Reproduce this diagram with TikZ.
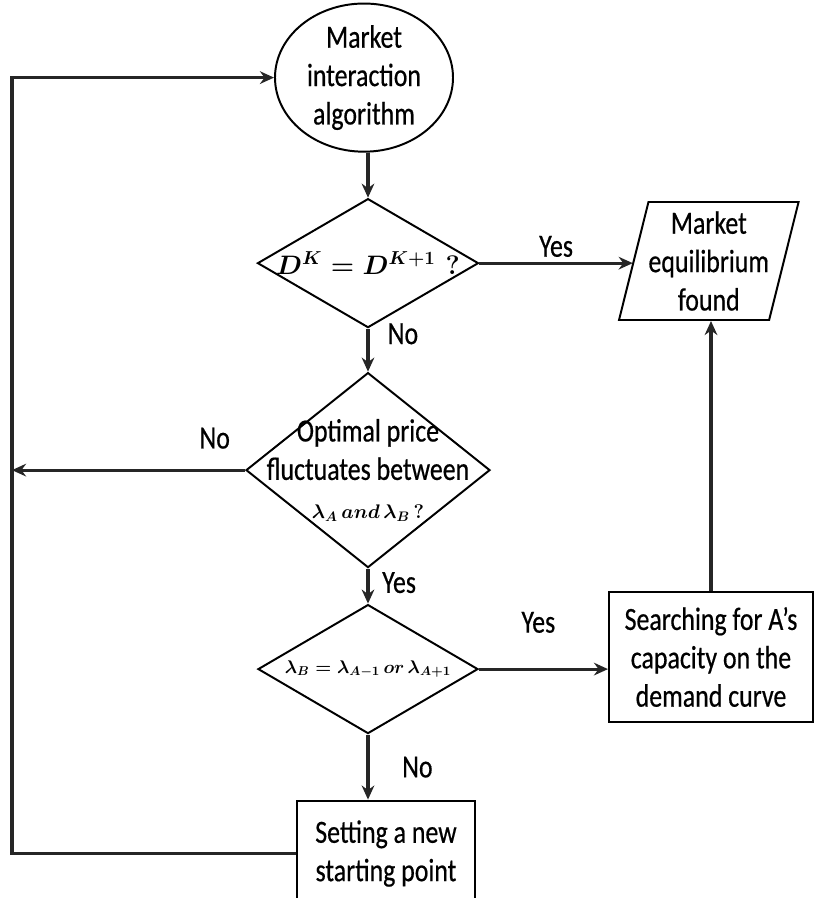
\documentclass[tikz,border=0pt]{standalone}
\usepackage{fix-cm}
\usepackage{fontspec}
\setmainfont{Carlito}[FakeStretch=0.8, FakeBold=0.5]
\usetikzlibrary{shapes.geometric, positioning, arrows.meta}

\begin{document}
\begin{tikzpicture}[font=\fontsize{23}{27.3}\selectfont,node distance=1cm,->,>={Stealth[length=10pt,width=9pt]},line width=2.2pt,draw=black!85]

	\tikzset{node ell/.style={ellipse, draw=black, line width=1.4pt,
			minimum width=4.45cm, minimum height=3.525cm,
			inner sep=0pt, align=center}}
	\tikzset{node dia/.style={diamond, draw=black, line width=1.4pt,
			inner sep=0pt}}
	\tikzset{node box/.style={rectangle, draw=black, line width=1.4pt,
			align=center}}
	\tikzset{node par/.style={trapezium, trapezium left angle=73.5,
			trapezium right angle=106.5, trapezium stretches=true,
			draw=black, line width=1.4pt, inner sep=0pt,
			minimum width=4.475cm, minimum height=2.95cm, align=center}}
	\tikzset{node lab/.style={align=center}}

	\useasboundingbox (0,0) rectangle (20.35,-22.45);

	\node[node ell] (ell) at (9.1,-1.94) {Market\\interaction\\algorithm};
	\node[node dia, minimum width=5.525cm, minimum height=3.225cm, below=1.125cm of ell, xshift=0.1cm] (d1) {};
	\node[node dia, minimum width=6.1cm, minimum height=4.875cm, below=1.075cm of d1] (d2) {};
	\node[node dia, minimum width=5.5cm, minimum height=3.225cm, below=0.875cm of d2] (d3) {};
	\node[node box, minimum width=4.45cm, minimum height=2.65cm, below=1.625cm of d3, xshift=0.45cm] (sp) {Setting a new\\starting point};

	\node[node par] (par) at (17.72,-6.525) {Market\\equilibrium\\found};
	\node[node box, minimum width=5.1cm, minimum height=3.25cm] (srch) at (17.775,-16.425) {Searching for A's\\capacity on the\\demand curve};

	\node[node lab, font=\fontsize{19}{22}\selectfont\boldmath] (d1t) at (d1.center) {$D^K = D^{K+1}\ \,?$};
	\node[node lab] (d2t) at (d2.center) {Optimal price\\fluctuates between\\{\fontsize{14}{17}\selectfont\boldmath$\lambda_A\ and\ \lambda_B\ ?$}};
	\node[node lab, font=\fontsize{13}{18}\selectfont\boldmath] (d3t) at (d3.center) {$\lambda_B = \lambda_{A-1}\ or\ \lambda_{A+1}$};

	\coordinate (lft) at (0.3,0);

	\draw (ell.south -| d1.north) -- (d1.north);
	\draw (d1.south) -- node[pos=0.12, right=0.34cm]{No} (d2.north);
	\draw (d2.south) -- node[pos=0.4, right=0.2cm]{Yes} (d3.north);
	\draw (d3.south) -- node[pos=0.5, right=0.7cm]{No} (d3.south |- sp.north);
	\draw (d1.east) -- node[above]{Yes} (d1.east -| par.west);
	\draw (d3.east) -- node[pos=0.46, above=0.75cm]{Yes} (d3.east -| srch.west);
	\draw (srch.north) -- (srch.north |- par.south);
	\draw (d2.west) -- node[pos=0.13, above=0.38cm]{No} (d2.west -| lft);
	\draw (sp.west) -- (sp.west -| lft) |- (ell.west);
\end{tikzpicture}
\end{document}
